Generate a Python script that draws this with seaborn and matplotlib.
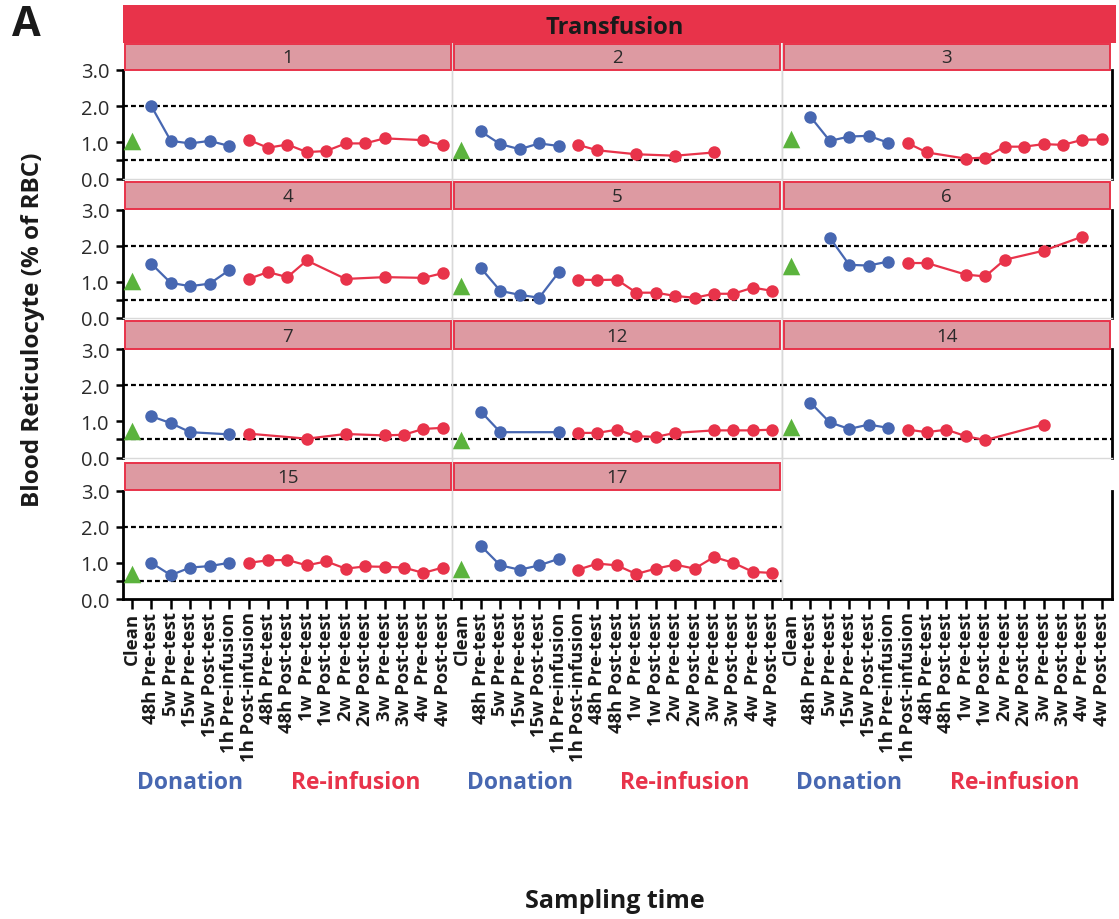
import numpy as np
import pandas as pd
import matplotlib
matplotlib.use("Agg")
import matplotlib.pyplot as plt
from matplotlib.patches import Rectangle
from matplotlib.lines import Line2D
from matplotlib.transforms import blended_transform_factory
import seaborn as sns

nan = np.nan

# Sampling schedule (x axis categories)
sampling_times = [
    "Clean", "48h Pre-test", "5w Pre-test", "15w Pre-test", "15w Post-test",
    "1h Pre-infusion", "1h Post-infusion", "48h Pre-test", "48h Post-test",
    "1w  Pre-test", "1w Post-test", "2w  Pre-test", "2w Post-test",
    "3w  Pre-test", "3w Post-test", "4w  Pre-test", "4w Post-test",
]
phases = ["Clean"] + ["Donation"] * 5 + ["Re-infusion"] * 11

subjects = ["1", "2", "3", "4", "5", "6", "7", "12", "14", "15", "17"]

# Blood reticulocyte (% of RBC) per subject, one value per sampling time
subject_1 = [1.05, 2.00, 1.04, 0.97, 1.04, 0.90, 1.07, 0.85, 0.94, 0.73, 0.76, 0.97, 0.97, 1.11, nan, 1.06, 0.92]
subject_2 = [0.79, 1.30, 0.95, 0.81, 0.97, 0.90, 0.93, 0.78, nan, 0.67, nan, 0.63, nan, 0.72, nan, nan, nan]
subject_3 = [1.10, 1.71, 1.04, 1.16, 1.18, 0.99, 0.98, 0.72, nan, 0.55, 0.58, 0.88, 0.88, 0.95, 0.93, 1.07, 1.08]
subject_4 = [1.03, 1.50, 0.97, 0.88, 0.95, 1.32, 1.08, 1.27, 1.13, 1.59, nan, 1.08, nan, 1.13, nan, 1.11, 1.24]
subject_5 = [0.88, 1.38, 0.75, 0.64, 0.56, 1.26, 1.06, 1.05, 1.06, 0.70, 0.70, 0.61, 0.56, 0.67, 0.67, 0.84, 0.75]
subject_6 = [1.43, nan, 2.22, 1.47, 1.45, 1.56, 1.52, 1.52, nan, 1.20, 1.15, 1.61, nan, 1.86, nan, 2.25, nan]
subject_7 = [0.74, 1.14, 0.95, 0.70, nan, 0.64, 0.66, nan, nan, 0.52, nan, 0.65, nan, 0.61, 0.63, 0.79, 0.82]
subject_12 = [0.49, 1.27, 0.70, nan, nan, 0.70, 0.68, 0.68, 0.77, 0.59, 0.57, 0.68, nan, 0.75, 0.75, 0.75, 0.77]
subject_14 = [0.84, 1.52, 0.97, 0.79, 0.91, 0.82, 0.77, 0.70, 0.77, 0.59, 0.48, nan, nan, 0.91, nan, nan, nan]
subject_15 = [0.70, 1.00, 0.66, 0.87, 0.91, 1.00, 1.00, 1.07, 1.08, 0.93, 1.04, 0.84, 0.90, 0.89, 0.87, 0.72, 0.87]
subject_17 = [0.83, 1.47, 0.93, 0.81, 0.93, 1.11, 0.81, 0.98, 0.93, 0.69, 0.84, 0.95, 0.84, 1.16, 1.00, 0.75, 0.72]

subject_values = [subject_1, subject_2, subject_3, subject_4, subject_5, subject_6,
                  subject_7, subject_12, subject_14, subject_15, subject_17]

reference_limits = [2.0, 0.5]
y_ticks = [0.0, 0.5, 1.0, 2.0, 3.0]
y_ticklabels = ["0.0", "", "1.0", "2.0", "3.0"]

BLUE = "#4767b1"
RED = "#e8334a"
GREEN = "#5bb33d"
STRIP = "#dd9aa2"
GRID = "#d9d9d9"
INK = "#1a1a1a"

# Long-form table
rows = []
for subj, vals in zip(subjects, subject_values):
    for pos, (t, ph, v) in enumerate(zip(sampling_times, phases, vals)):
        rows.append({"subject": subj, "pos": pos, "time": t, "phase": ph, "value": v})
df = pd.DataFrame(rows).dropna(subset=["value"])

sns.set_theme(style="white")
plt.rcParams["font.family"] = ["Open Sans", "DejaVu Sans"]

W, H = 1119, 920
fig = plt.figure(figsize=(W / 100, H / 100), dpi=100)


def box(x0, y0, x1, y1):
    return [x0 / W, 1 - y1 / H, (x1 - x0) / W, (y1 - y0) / H]


col_left = [123, 452.5, 782]
col_w = 329.5
row_top = [71, 210.5, 350, 491.5]
row_h = 108.5

# Header bar
fig.patches.append(Rectangle((123 / W, 1 - 44 / H), (1116 - 123) / W, 38 / H,
                             transform=fig.transFigure, facecolor=RED, edgecolor="none", zorder=0))
fig.text(615 / W, 1 - 28 / H, "Transfusion", ha="center", va="center",
         fontsize=17, fontweight="bold", color=INK)

palette = {"Donation": BLUE, "Re-infusion": RED}

for i in range(12):
    r, c = divmod(i, 3)
    x0 = col_left[c]
    y0 = row_top[r]
    ax = fig.add_axes(box(x0, y0, x0 + col_w, y0 + row_h))
    ax.set_xlim(-0.46, 16.5)
    ax.set_ylim(0, 3.0)

    if i < len(subjects):
        subj = subjects[i]
        sub = df[df["subject"] == subj]
        for yl in reference_limits:
            ax.axhline(yl, color="black", lw=1.6, ls=(0, (2.2, 1.4)), zorder=1)
        sns.lineplot(data=sub[sub["phase"] != "Clean"], x="pos", y="value", hue="phase",
                     palette=palette, estimator=None, sort=True, marker="o", markersize=9,
                     markeredgewidth=0, linewidth=1.6, legend=False, ax=ax, zorder=3)
        sns.scatterplot(data=sub[sub["phase"] == "Clean"], x="pos", y="value", marker="^",
                        s=160, color=GREEN, linewidth=0, legend=False, ax=ax, zorder=3)
        # facet strip
        fig.patches.append(Rectangle(((x0 + 1.5) / W, 1 - (y0 - 0.5) / H),
                                     (col_w - 3.5) / W, (27.5 if r else 26) / H,
                                     transform=fig.transFigure, facecolor=STRIP,
                                     edgecolor=RED, lw=1.4, zorder=1))
        fig.text((x0 + col_w / 2) / W, 1 - (y0 - (13.5 if r else 13)) / H, subj,
                 ha="center", va="center", fontsize=13.5, color="#2a2a2a")

    ax.set_xlabel("")
    ax.set_ylabel("")
    ax.set_xticks(range(len(sampling_times)))
    ax.set_yticks(y_ticks)

    for side in ["top", "bottom", "left", "right"]:
        ax.spines[side].set_color(GRID)
        ax.spines[side].set_linewidth(1.0)
    ax.spines["top"].set_visible(False)

    is_bottom = (r == 3)
    if c == 0:
        ax.spines["left"].set_color("black")
        ax.spines["left"].set_linewidth(2.0)
        ax.set_yticklabels(y_ticklabels)
        ax.tick_params(axis="y", left=True, labelleft=True, length=5, width=1.8,
                       color="black", labelsize=14.5, pad=5, direction="out",
                       labelcolor="#2a2a2a")
    else:
        ax.tick_params(axis="y", left=False, labelleft=False)
    if c == 2:
        ax.spines["right"].set_color("black")
        ax.spines["right"].set_linewidth(2.0)

    if is_bottom:
        ax.spines["bottom"].set_color("black")
        ax.spines["bottom"].set_linewidth(2.0)
        ax.set_xticklabels(sampling_times, rotation=90, fontsize=13.3,
                           fontweight="bold", color=INK)
        ax.tick_params(axis="x", bottom=True, labelbottom=True, length=7, width=1.8,
                       color="black", pad=2, direction="out")
        tr = blended_transform_factory(ax.transData, fig.transFigure)
        ax.text(3, 1 - 783 / H, "Donation", transform=tr, ha="center", va="center",
                fontsize=16.5, fontweight="bold", color=BLUE)
        ax.text(11.5, 1 - 783 / H, "Re-infusion", transform=tr, ha="center", va="center",
                fontsize=16.5, fontweight="bold", color=RED)
    else:
        ax.tick_params(axis="x", bottom=False, labelbottom=False)

# column separators running through the strips
for xs in [452.5, 782]:
    fig.lines.append(Line2D([xs / W, xs / W], [1 - 44 / H, 1 - 600 / H],
                            transform=fig.transFigure, color=GRID, lw=1.0, zorder=0))

fig.text(26 / W, 1 - 25 / H, "A", ha="center", va="center", fontsize=30, fontweight="bold",
         color=INK)
fig.text(33 / W, 1 - 330 / H, "Blood Reticulocyte (% of RBC)", rotation=90, ha="center",
         va="center", fontsize=17.5, fontweight="bold", color=INK)
fig.text(615 / W, 1 - 902 / H, "Sampling time", ha="center", va="center",
         fontsize=18, fontweight="bold", color=INK)

fig.savefig("out.png", dpi=100)
